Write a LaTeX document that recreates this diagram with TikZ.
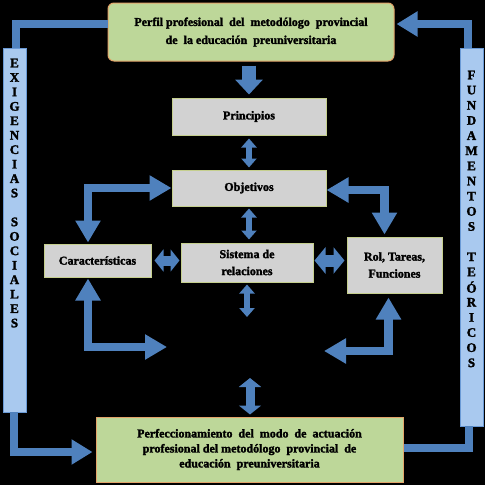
\documentclass[tikz,border=0pt]{standalone}
\usepackage{fontspec}
\setmainfont{Liberation Serif}[BoldFeatures={FakeBold=2}]
\usetikzlibrary{arrows.meta}
\definecolor{arrowblue}{HTML}{4F81BD}
\definecolor{boxgreen}{HTML}{BDD799}
\definecolor{greenedge}{HTML}{E3A46A}
\definecolor{boxgray}{HTML}{D2D2D2}
\definecolor{grayedge}{HTML}{C5CF8E}
\definecolor{sideblue}{HTML}{A9C9EF}
\definecolor{sideedge}{HTML}{6A9AD6}
\tikzset{
  mainbox/.style={draw=greenedge, line width=1pt, fill=boxgreen, inner sep=0pt, align=center,
     font=\fontsize{12}{18}\selectfont\bfseries},
  graybox/.style={draw=grayedge, line width=1pt, fill=boxgray, inner sep=0pt, align=center,
     font=\fontsize{12}{17}\selectfont\bfseries},
  sidebox/.style={draw=sideedge, line width=0.8pt, fill=sideblue, inner sep=0pt},
  sideletter/.style={inner sep=0pt, font=\fontsize{13}{14}\selectfont\bfseries},
  elbow/.style={draw=arrowblue, line width=8.5pt, line join=miter,
     arrows={-Triangle[width=24pt,length=21pt,fill=arrowblue]}},
  elbowboth/.style={draw=arrowblue, line width=8.5pt, line join=miter,
     arrows={Triangle[width=24pt,length=22pt,fill=arrowblue]-Triangle[width=24pt,length=22pt,fill=arrowblue]}},
  plainline/.style={draw=arrowblue, line width=8.5pt, line join=miter},
  fatdown/.style={draw=arrowblue, line width=14pt,
     arrows={-Triangle[width=27pt,length=15pt,fill=arrowblue]}},
  thindouble/.style={draw=arrowblue, line width=6pt,
     arrows={Triangle[width=15pt,length=9pt,fill=arrowblue]-Triangle[width=15pt,length=9pt,fill=arrowblue]}},
  middouble/.style={draw=arrowblue, line width=10pt,
     arrows={Triangle[width=22pt,length=9pt,fill=arrowblue]-Triangle[width=22pt,length=9pt,fill=arrowblue]}},
  bigdouble/.style={draw=arrowblue, line width=12pt,
     arrows={Triangle[width=26pt,length=11pt,fill=arrowblue]-Triangle[width=26pt,length=11pt,fill=arrowblue]}},
}
\begin{document}
\begin{tikzpicture}[x=1pt,y=-1pt]
\useasboundingbox (0,0) rectangle (485,485);
\fill[black] (0,0) rectangle (485,485);

% boxes
\node[mainbox, rounded corners=6pt, minimum width=286pt, minimum height=58pt] (top) at (251,32)
  {Perfil profesional\ \ del\ \ metodólogo\ \ provincial\\de\ \ la educación\ \ preuniversitaria};
\node[graybox, minimum width=154pt, minimum height=37pt] (prin) at (249,116.5) {Principios};
\node[graybox, minimum width=154pt, minimum height=36pt] (obj) at (249,188) {Objetivos};
\node[graybox, minimum width=132pt, minimum height=39pt] (sis) at (247,262.5) {Sistema de\\relaciones};
\node[graybox, minimum width=107pt, minimum height=33pt] (car) at (97.5,260.5) {Características};
\node[graybox, minimum width=95pt, minimum height=56pt] (rol) at (394.5,265) {Rol, Tareas,\\Funciones};
\node[mainbox, font=\fontsize{12}{15}\selectfont\bfseries, minimum width=307pt, minimum height=65pt] (bot) at (249.5,449.5)
  {Perfeccionamiento\ \ del\ \ modo\ \ de\ \ actuación\\profesional del metodólogo\ \ provincial\ \ de\\educación\ \ preuniversitaria};
\node[sidebox, minimum width=23pt, minimum height=364pt] (left) at (14.5,230) {};
\node[sidebox, minimum width=23pt, minimum height=378pt] (right) at (471.5,237) {};
\foreach \l [count=\i] in {E,X,I,G,E,N,C,I,A,S,{},S,O,C,I,A,L,E,S}
  \node[sideletter] (ls\i) at (14.5,{63+(\i-1)*14.45}) {\l};
\foreach \l [count=\i] in {F,U,N,D,A,M,E,N,T,O,S,{},T,E,Ó,R,I,C,O,S}
  \node[sideletter] (rs\i) at (471.5,{75+(\i-1)*15.15}) {\l};

% free ends
\coordinate (bl) at (167,347);
\coordinate (br) at (324,351);
\coordinate (sisdown) at (247,317);
\coordinate (botup) at (250,378);

% outer connectors
\draw[plainline] ([yshift=8pt]top.west) -| ([xshift=1.5pt]left.north);
\draw[elbow, shorten >=2pt] ([xshift=-3.5pt]right.north) |- ([yshift=8pt]top.east);
\draw[elbow, shorten >=3pt] ([xshift=-0.5pt]left.south) |- ([yshift=-2.5pt]bot.west);
\draw[plainline] ([xshift=-2.5pt]right.south) |- ([yshift=1.5pt]bot.east);

% inner connectors
\draw[fatdown, shorten <=4pt, shorten >=3pt] (top.south -| prin.north) -- (prin.north);
\draw[thindouble, shorten <=3pt, shorten >=2pt] (prin.south) -- (obj.north);
\draw[thindouble, shorten <=2pt, shorten >=3pt] (obj.south) -- (obj.south |- sis.north);
\draw[thindouble, shorten <=2pt] (sis.south) -- (sisdown);
\draw[middouble, shorten <=3pt, shorten >=1pt] (car.east) -- (car.east -| sis.west);
\draw[bigdouble, shorten <=1pt, shorten >=2pt] ([yshift=2pt]sis.east) -- ([yshift=2pt]sis.east -| rol.west);
\draw[elbowboth, shorten >=1pt] (obj.west) -| ([xshift=-9.5pt]car.north);
\draw[elbowboth, shorten >=2pt] ([yshift=-2pt]obj.east) -| ([xshift=-10pt]rol.north);
\draw[elbowboth, shorten >=1pt] (bl) -| ([xshift=-9.5pt]car.south);
\draw[elbowboth, shorten >=4pt] (br) -| ([xshift=-6pt]rol.south);
\draw[middouble, line width=9pt, shorten >=2pt] (botup) -- (bot.north -| botup);
\end{tikzpicture}
\end{document}
